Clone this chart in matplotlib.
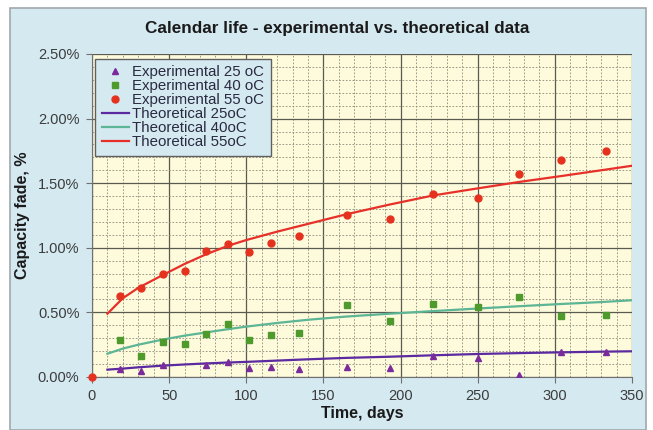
import matplotlib.pyplot as plt
import numpy as np
from matplotlib.patches import Rectangle
from matplotlib.ticker import MultipleLocator, FuncFormatter

plt.rcParams['font.family'] = ['Liberation Sans', 'DejaVu Sans']

# experimental data (days, capacity fade %)
days_55 = [0, 18, 32, 46, 60, 74, 88, 102, 116, 134, 165, 193, 221, 250, 277, 304, 333]
fade_55 = [0.0, 0.63, 0.687, 0.796, 0.824, 0.979, 1.026, 0.971, 1.041, 1.093, 1.25,
           1.222, 1.416, 1.385, 1.571, 1.68, 1.747]

days_40 = [18, 32, 46, 60, 74, 88, 102, 116, 134, 165, 193, 221, 250, 277, 304, 333]
fade_40 = [0.289, 0.163, 0.269, 0.253, 0.333, 0.411, 0.289, 0.326, 0.339, 0.556,
           0.432, 0.563, 0.543, 0.623, 0.47, 0.481]

days_25 = [18, 32, 46, 74, 88, 102, 116, 134, 165, 193, 221, 250, 277, 304, 333]
fade_25 = [0.065, 0.05, 0.093, 0.093, 0.116, 0.07, 0.08, 0.064, 0.08, 0.067,
           0.165, 0.15, 0.013, 0.196, 0.196]

# theoretical curves
days_th = [10, 20, 30, 46, 60, 74, 88, 100, 120, 140, 165, 193, 221, 250, 277, 304, 330, 350]
th_55 = [0.49, 0.61, 0.69, 0.79, 0.875, 0.95, 1.015, 1.06, 1.125, 1.185, 1.26, 1.335, 1.405,
         1.46, 1.51, 1.555, 1.60, 1.635]
th_40 = [0.18, 0.22, 0.25, 0.29, 0.32, 0.345, 0.37, 0.39, 0.418, 0.443, 0.468, 0.49, 0.51,
         0.53, 0.548, 0.565, 0.58, 0.594]
th_25 = [0.057, 0.065, 0.075, 0.088, 0.097, 0.105, 0.112, 0.117, 0.127, 0.137, 0.148,
         0.157, 0.168, 0.178, 0.185, 0.191, 0.196, 0.199]

fig = plt.figure(figsize=(6.53, 4.30), dpi=100)
fig.patch.set_facecolor('white')
fig.patches.append(Rectangle((10 / 653, 0), 636 / 653, 422 / 430, transform=fig.transFigure,
                             facecolor='#d5e9f1', edgecolor='#a0a8ac', lw=1.2, zorder=-1))

ax = fig.add_axes([92 / 653, 53 / 430, 540 / 653, 323 / 430])
ax.set_facecolor('#fdfbdc')

ax.plot(days_25, fade_25, '^', color='#7b2a9c', ms=4.8, ls='none', label='Experimental 25 oC', zorder=4)
ax.plot(days_40, fade_40, 's', color='#4f9a2c', ms=4.5, ls='none', label='Experimental 40 oC', zorder=4)
ax.plot(days_55, fade_55, 'o', color='#e5321f', ms=5, ls='none', label='Experimental 55 oC',
        zorder=4, clip_on=False)
ax.plot(days_th, th_25, color='#5b2aa0', lw=1.6, label='Theoretical 25oC', zorder=3)
ax.plot(days_th, th_40, color='#5cb594', lw=1.6, label='Theoretical 40oC', zorder=3)
ax.plot(days_th, th_55, color='#e8302a', lw=1.6, label='Theoretical 55oC', zorder=3)

ax.set_xlim(0, 350)
ax.set_ylim(0, 2.5)
ax.xaxis.set_major_locator(MultipleLocator(50))
ax.xaxis.set_minor_locator(MultipleLocator(10))
ax.yaxis.set_major_locator(MultipleLocator(0.5))
ax.yaxis.set_minor_locator(MultipleLocator(0.1))
ax.yaxis.set_major_formatter(FuncFormatter(lambda v, p: '%.2f%%' % v))

ax.grid(which='major', color='#5a5a50', lw=0.9, ls='-')
ax.grid(which='minor', color='#8a8a78', lw=0.6, ls=(0, (2, 2)))
ax.set_axisbelow(True)

for s in ['top', 'right']:
    ax.spines[s].set_visible(False)
for s in ['left', 'bottom']:
    ax.spines[s].set_color('#707070')
ax.tick_params(which='major', length=4, color='#707070', labelsize=10.5,
               labelcolor='#3c3c3c', pad=5)
ax.tick_params(which='minor', length=0)

fig.text(337 / 653, 1 - 28 / 430, 'Calendar life - experimental vs. theoretical data',
         fontsize=12.3, fontweight='bold', color='#1a1a1a', ha='center', va='center')
ax.set_xlabel('Time, days', fontsize=11.5, fontweight='bold', labelpad=2, color='#1a1a1a')
ax.set_ylabel('Capacity fade, %', fontsize=11.5, fontweight='bold', labelpad=6, color='#1a1a1a')

leg = ax.legend(loc='upper left', bbox_to_anchor=(0.0, 0.995), fontsize=10.8,
                frameon=True, fancybox=False, handlelength=1.8, handletextpad=0.25,
                labelspacing=0.0, borderpad=0.45, borderaxespad=0.2)
leg.get_frame().set_facecolor('#d5e9f1')
leg.get_frame().set_edgecolor('#606060')
leg.get_frame().set_alpha(1)
for t in leg.get_texts():
    t.set_color('#2a2a40')

fig.savefig('out.png', dpi=100)
